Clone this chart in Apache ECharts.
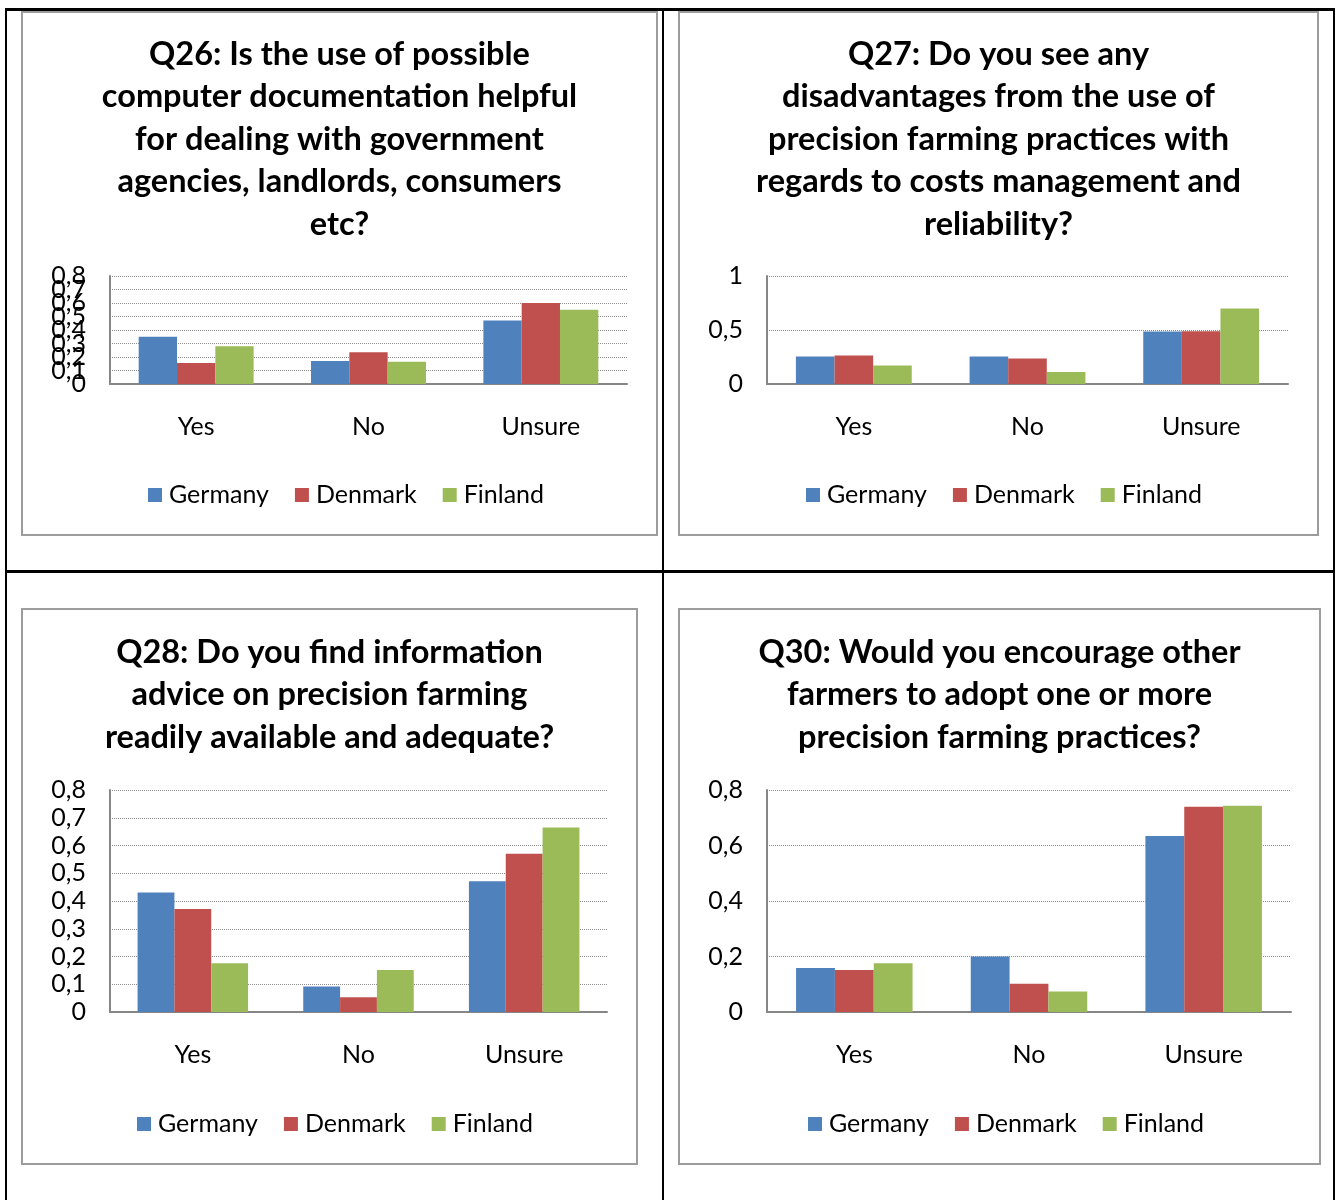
<!DOCTYPE html>
<html>
<head>
<meta charset="utf-8">
<script src="https://cdn.jsdelivr.net/npm/echarts@6/dist/echarts.min.js"></script>
<style>
  html, body { margin: 0; padding: 0; background: #fff; }
  body { width: 1340px; height: 1200px; position: relative; overflow: hidden; font-family: Lato, sans-serif; }
  .rule { position: absolute; background: #000; }
  .frame { position: absolute; box-sizing: border-box; border: 2px solid #9c9c9c; background: #fff; }
  .chart { position: absolute; }
</style>
</head>
<body>
<!-- table rules -->
<div class="rule" style="left:5px; top:8px; width:1330px; height:3px;"></div>
<div class="rule" style="left:5px; top:8px; width:2px; height:1192px;"></div>
<div class="rule" style="left:1333px; top:8px; width:2px; height:1192px;"></div>
<div class="rule" style="left:662px; top:8px; width:2px; height:1192px;"></div>
<div class="rule" style="left:5px; top:570px; width:1330px; height:3px;"></div>

<div class="frame" style="left:21px; top:11px; width:637px; height:525px;"></div>
<div class="frame" style="left:678px; top:11px; width:641px; height:525px;"></div>
<div class="frame" style="left:21px; top:608px; width:617px; height:557px;"></div>
<div class="frame" style="left:678px; top:608px; width:643px; height:557px;"></div>

<div id="c26" class="chart" style="left:21px; top:11px; width:637px; height:525px;"></div>
<div id="c27" class="chart" style="left:678px; top:11px; width:641px; height:525px;"></div>
<div id="c28" class="chart" style="left:21px; top:608px; width:617px; height:557px;"></div>
<div id="c30" class="chart" style="left:678px; top:608px; width:643px; height:557px;"></div>

<script>
// Answer categories and country series
const categories = ['Yes', 'No', 'Unsure'];
const countries = ['Germany', 'Denmark', 'Finland'];

// Q26 shares
const q26Germany = [0.35, 0.17, 0.47];
const q26Denmark = [0.155, 0.235, 0.60];
const q26Finland = [0.28, 0.165, 0.55];

// Q27 shares
const q27Germany = [0.255, 0.255, 0.485];
const q27Denmark = [0.265, 0.237, 0.489];
const q27Finland = [0.172, 0.111, 0.70];

// Q28 shares
const q28Germany = [0.431, 0.092, 0.471];
const q28Denmark = [0.371, 0.053, 0.57];
const q28Finland = [0.176, 0.151, 0.665];

// Q30 shares
const q30Germany = [0.159, 0.20, 0.634];
const q30Denmark = [0.151, 0.102, 0.74];
const q30Finland = [0.176, 0.074, 0.743];

// Value axis ranges
const q26Axis = { max: 0.8, interval: 0.1 };
const q27Axis = { max: 1, interval: 0.5 };
const q28Axis = { max: 0.8, interval: 0.1 };
const q30Axis = { max: 0.8, interval: 0.2 };

// Q26 tick labels sit only 13.5px apart, so they are spread over
// several label-only axes (ECharts drops crowded neighbours of the end labels).
const q26TickValues = [0, 0.1, 0.2, 0.3, 0.4, 0.5, 0.6, 0.7, 0.8];

const titles = {
  q26: 'Q26: Is the use of possible\ncomputer documentation helpful\nfor dealing with government\nagencies, landlords, consumers\netc?',
  q27: 'Q27: Do you see any\ndisadvantages from the use of\nprecision farming practices with\nregards to costs management and\nreliability?',
  q28: 'Q28: Do you find information\nadvice on precision farming\nreadily available and adequate?',
  q30: 'Q30: Would you encourage other\nfarmers to adopt one or more\nprecision farming practices?'
};

const palette = ['#4F81BD', '#C0504D', '#9BBB59'];
const FONT = 'Lato, "Open Sans", sans-serif';

function decimalComma(v) {
  return String(+Number(v).toFixed(2)).replace('.', ',');
}

const yLabelStyle = {
  fontFamily: FONT, fontSize: 25, color: '#000', margin: 24,
  showMinLabel: true, showMaxLabel: true,
  formatter: decimalComma
};

function build(el, cfg) {
  const chart = echarts.init(document.getElementById(el), null, { renderer: 'canvas' });

  const yAxes = [{
    type: 'value',
    min: 0,
    max: cfg.axis.max,
    interval: cfg.axis.interval,
    position: 'left',
    axisLine: { show: true, lineStyle: { color: '#868686', width: 2 } },
    axisTick: { show: false },
    axisLabel: Object.assign({ show: !cfg.tickValues }, yLabelStyle),
    splitLine: { show: true, lineStyle: { color: '#8c8c8c', width: 1, type: 'dotted' } }
  }];

  if (cfg.tickValues) {
    // every fourth tick value on its own label axis keeps them well apart
    for (let k = 0; k < 4; k++) {
      const vals = cfg.tickValues.filter((_, i) => i % 4 === k);
      yAxes.push({
        type: 'value',
        min: 0,
        max: cfg.axis.max,
        position: 'left',
        offset: 0,
        axisLine: { show: false },
        axisTick: { show: false },
        splitLine: { show: false },
        axisLabel: Object.assign({ customValues: vals }, yLabelStyle)
      });
    }
  }

  chart.setOption({
    animation: false,
    color: palette,
    textStyle: { fontFamily: FONT, color: '#000' },
    title: {
      text: cfg.title,
      left: 'center',
      top: cfg.titleTop,
      padding: 0,
      textStyle: { fontFamily: FONT, fontWeight: 'bold', fontSize: 32.5, lineHeight: 42.5, color: '#000' }
    },
    legend: {
      data: countries,
      left: cfg.legendLeft,
      top: cfg.legendTop,
      padding: 0,
      itemWidth: 14,
      itemHeight: 14,
      itemGap: 26,
      icon: 'rect',
      textStyle: { fontFamily: FONT, fontSize: 25, lineHeight: 28, color: '#000', padding: [0, 0, 0, 2] }
    },
    grid: Object.assign({ containLabel: false }, cfg.grid),
    xAxis: {
      type: 'category',
      data: categories,
      axisLine: { lineStyle: { color: '#868686', width: 2 } },
      axisTick: { show: false },
      axisLabel: { fontFamily: FONT, fontSize: 25, lineHeight: 28, color: '#000', margin: 29 }
    },
    yAxis: yAxes,
    series: countries.map((name, i) => ({
      name: name,
      type: 'bar',
      yAxisIndex: 0,
      data: cfg.values[i],
      barGap: '0%',
      barCategoryGap: '33.3%',
      itemStyle: { color: palette[i] }
    }))
  });
}

build('c26', {
  title: titles.q26, titleTop: 22,
  legendLeft: 127, legendTop: 470,
  grid: { left: 89, right: 31, top: 265, bottom: 152 },
  axis: q26Axis,
  tickValues: q26TickValues,
  values: [q26Germany, q26Denmark, q26Finland]
});
build('c27', {
  title: titles.q27, titleTop: 22,
  legendLeft: 128, legendTop: 470,
  grid: { left: 89, right: 31, top: 265, bottom: 152 },
  axis: q27Axis,
  values: [q27Germany, q27Denmark, q27Finland]
});
build('c28', {
  title: titles.q28, titleTop: 23,
  legendLeft: 116, legendTop: 502,
  grid: { left: 89, right: 31, top: 182, bottom: 153 },
  axis: q28Axis,
  values: [q28Germany, q28Denmark, q28Finland]
});
build('c30', {
  title: titles.q30, titleTop: 23,
  legendLeft: 130, legendTop: 502,
  grid: { left: 89, right: 30, top: 182, bottom: 153 },
  axis: q30Axis,
  values: [q30Germany, q30Denmark, q30Finland]
});
</script>
</body>
</html>
